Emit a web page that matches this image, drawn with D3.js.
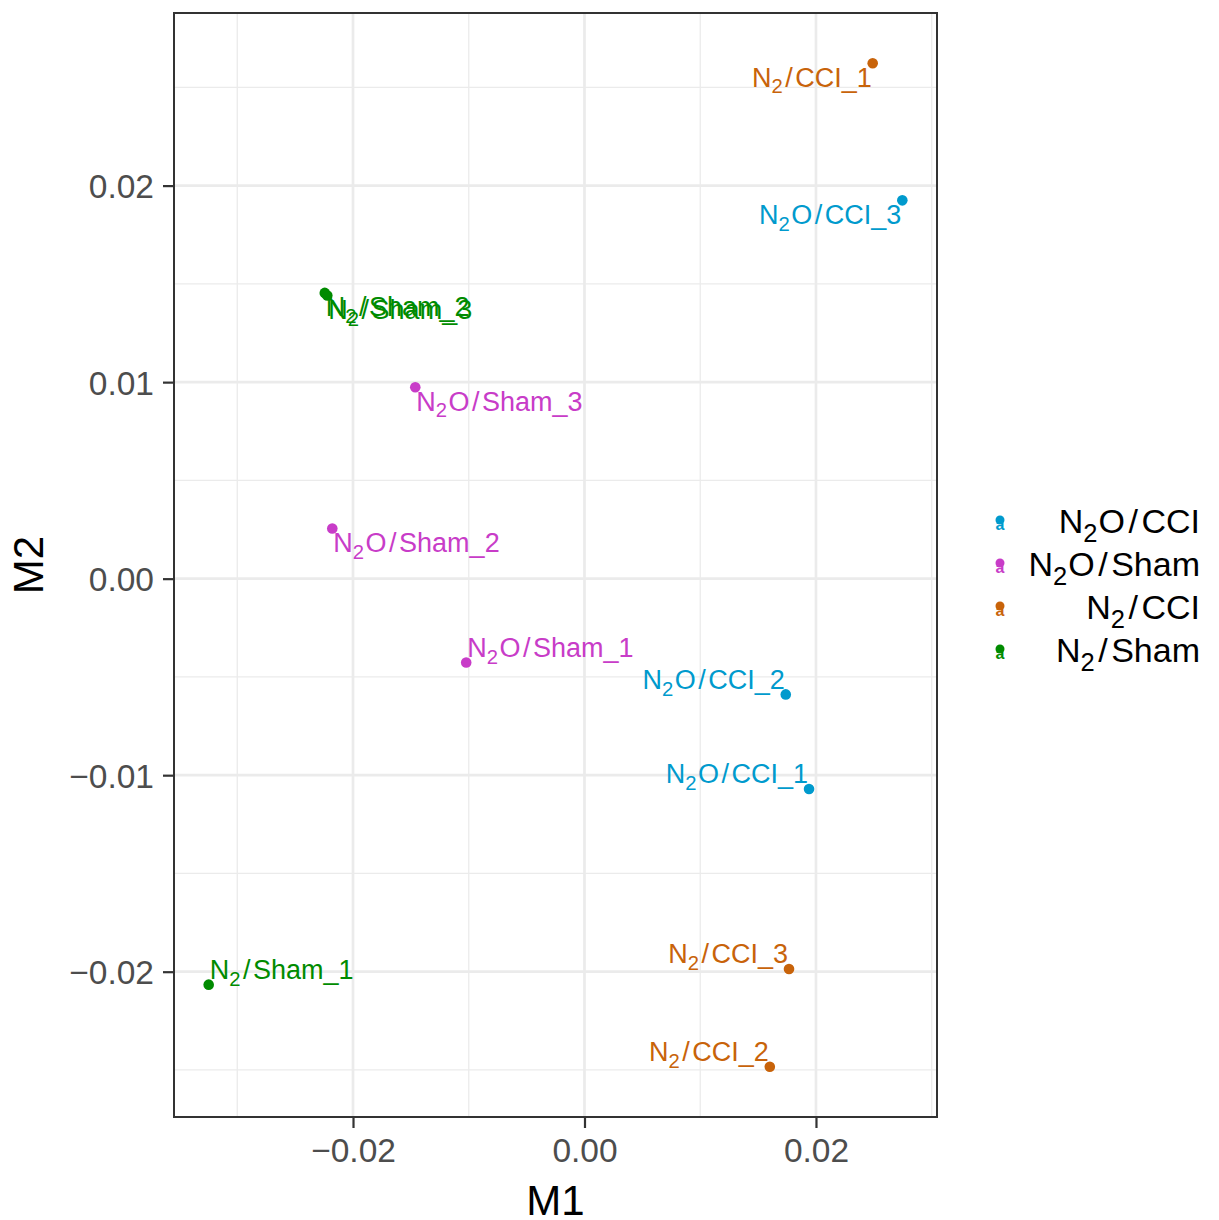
<!DOCTYPE html>
<html><head><meta charset="utf-8">
<script src="https://cdn.jsdelivr.net/npm/d3@7"></script>
<style>body{margin:0;background:#fff}</style>
</head><body>
<svg id="c" width="1219" height="1220"></svg>
<script>
const labels = ["N2/CCI_1","N2/CCI_2","N2/CCI_3","N2/Sham_1","N2/Sham_2","N2/Sham_3",
                "N2O/CCI_1","N2O/CCI_2","N2O/CCI_3","N2O/Sham_1","N2O/Sham_2","N2O/Sham_3"];
const groups = ["N2/CCI","N2/CCI","N2/CCI","N2/Sham","N2/Sham","N2/Sham",
                "N2O/CCI","N2O/CCI","N2O/CCI","N2O/Sham","N2O/Sham","N2O/Sham"];
const m1 = [0.02490, 0.01601, 0.01767, -0.03247, -0.02244, -0.02222,
            0.01940, 0.01739, 0.02746, -0.01022, -0.02179, -0.01462];
const m2 = [0.02623, -0.02484, -0.01986, -0.02066, 0.01454, 0.01441,
            -0.01070, -0.00589, 0.01925, -0.00427, 0.00255, 0.00974];
const legendGroups = ["N2O/CCI","N2O/Sham","N2/CCI","N2/Sham"];
const groupColors = ["#009ACD","#C83CC8","#C8630A","#008B00"];
const xTicks = [-0.02, 0, 0.02];
const xMinor = [-0.03, -0.01, 0.01, 0.03];
const yTicks = [-0.02, -0.01, 0, 0.01, 0.02];
const yMinor = [-0.025, -0.015, -0.005, 0.005, 0.015, 0.025];

const svg = d3.select("#c");
const L = 174, R = 937, T = 13, B = 1117;
function expand(ext){ const d = ext[1]-ext[0]; return [ext[0]-0.05*d, ext[1]+0.05*d]; }
const x = d3.scaleLinear().domain(expand(d3.extent(m1))).range([L, R]);
const y = d3.scaleLinear().domain(expand(d3.extent(m2))).range([B, T]);
const color = d3.scaleOrdinal().domain(legendGroups).range(groupColors);
const FONT = "'Liberation Sans', Arial, sans-serif";

// grid
const g = svg.append("g");
g.selectAll(".xmin").data(xMinor).join("line").attr("x1", d=>x(d)).attr("x2", d=>x(d))
  .attr("y1", T).attr("y2", B).attr("stroke", "#EBEBEB").attr("stroke-width", 1.3);
g.selectAll(".ymin").data(yMinor).join("line").attr("y1", d=>y(d)).attr("y2", d=>y(d))
  .attr("x1", L).attr("x2", R).attr("stroke", "#EBEBEB").attr("stroke-width", 1.3);
g.selectAll(".xmaj").data(xTicks).join("line").attr("x1", d=>x(d)).attr("x2", d=>x(d))
  .attr("y1", T).attr("y2", B).attr("stroke", "#EBEBEB").attr("stroke-width", 2.7);
g.selectAll(".ymaj").data(yTicks).join("line").attr("y1", d=>y(d)).attr("y2", d=>y(d))
  .attr("x1", L).attr("x2", R).attr("stroke", "#EBEBEB").attr("stroke-width", 2.7);

// rich text helper: N<sub>2</sub>[O]/rest
function rich(t, label, fs, gap, subGap){
  const m = label.match(/^N2(O?)\/(.*)$/);
  const s = fs*0.25;
  t.append("tspan").text("N");
  t.append("tspan").attr("font-size", fs*0.75).attr("dy", s).text("2");
  let pending = -s;
  if (m[1]) { t.append("tspan").attr("dy", pending).attr("dx", subGap).text(m[1]); pending = 0; }
  const sl = t.append("tspan").attr("dx", gap).text("/");
  if (pending) sl.attr("dy", pending);
  t.append("tspan").attr("dx", gap).text(m[2]);
}

// points
const idx = d3.range(labels.length);
svg.append("g").selectAll("circle").data(idx).join("circle")
  .attr("cx", i=>x(m1[i])).attr("cy", i=>y(m2[i])).attr("r", 5.3)
  .attr("fill", i=>color(groups[i]));

// labels (inward justification)
const cx = (L+R)/2, cy = (T+B)/2;
const lg = svg.append("g");
idx.forEach(i=>{
  const px = x(m1[i]), py = y(m2[i]);
  const left = px < cx, top = py < cy;
  const t = lg.append("text")
    .attr("x", left ? px + 1 : px - 1)
    .attr("y", top ? py + 23.5 : py - 5.5)
    .attr("text-anchor", left ? "start" : "end")
    .attr("font-family", FONT).attr("font-size", 27)
    .attr("fill", color(groups[i]));
  rich(t, labels[i], 27, 2.5, 1.5);
});

// border
svg.append("rect").attr("x", L).attr("y", T).attr("width", R-L).attr("height", B-T)
  .attr("fill", "none").attr("stroke", "#333333").attr("stroke-width", 2);

// axes
const xa = svg.append("g").attr("transform", `translate(0,${B})`)
  .call(d3.axisBottom(x).tickValues(xTicks).tickFormat(d3.format(".2f")).tickSize(11).tickPadding(10));
const ya = svg.append("g").attr("transform", `translate(${L},0)`)
  .call(d3.axisLeft(y).tickValues(yTicks).tickFormat(d3.format(".2f")).tickSize(11).tickPadding(9));
[xa, ya].forEach(a=>{
  a.select(".domain").remove();
  a.selectAll(".tick line").attr("stroke", "#333333").attr("stroke-width", 2.2);
  a.selectAll(".tick text").attr("fill", "#4D4D4D").attr("font-family", FONT).attr("font-size", 33.5);
});
xa.selectAll(".tick text").attr("dy", "0.71em");
ya.selectAll(".tick text").attr("dy", "0.36em");

// axis titles
svg.append("text").attr("x", (L+R)/2).attr("y", 1215).attr("text-anchor", "middle")
  .attr("font-family", FONT).attr("font-size", 42).attr("fill", "#000").text("M1");
svg.append("text").attr("transform", `translate(43,${(T+B)/2}) rotate(-90)`).attr("text-anchor", "middle")
  .attr("font-family", FONT).attr("font-size", 42).attr("fill", "#000").text("M2");

// legend
const leg = svg.append("g");
legendGroups.forEach((grp, k)=>{
  const by = 533 + k*43;
  leg.append("circle").attr("cx", 1000).attr("cy", by - 13).attr("r", 4.5).attr("fill", color(grp));
  leg.append("text").attr("x", 1000).attr("y", by - 3).attr("text-anchor", "middle")
    .attr("font-family", FONT).attr("font-size", 16).attr("font-weight", "bold")
    .attr("fill", color(grp)).text("a");
  const t = leg.append("text").attr("x", 1200).attr("y", by).attr("text-anchor", "end")
    .attr("font-family", FONT).attr("font-size", 34).attr("fill", "#000");
  rich(t, grp, 34, 3.5, 1);
});
</script>
</body></html>
